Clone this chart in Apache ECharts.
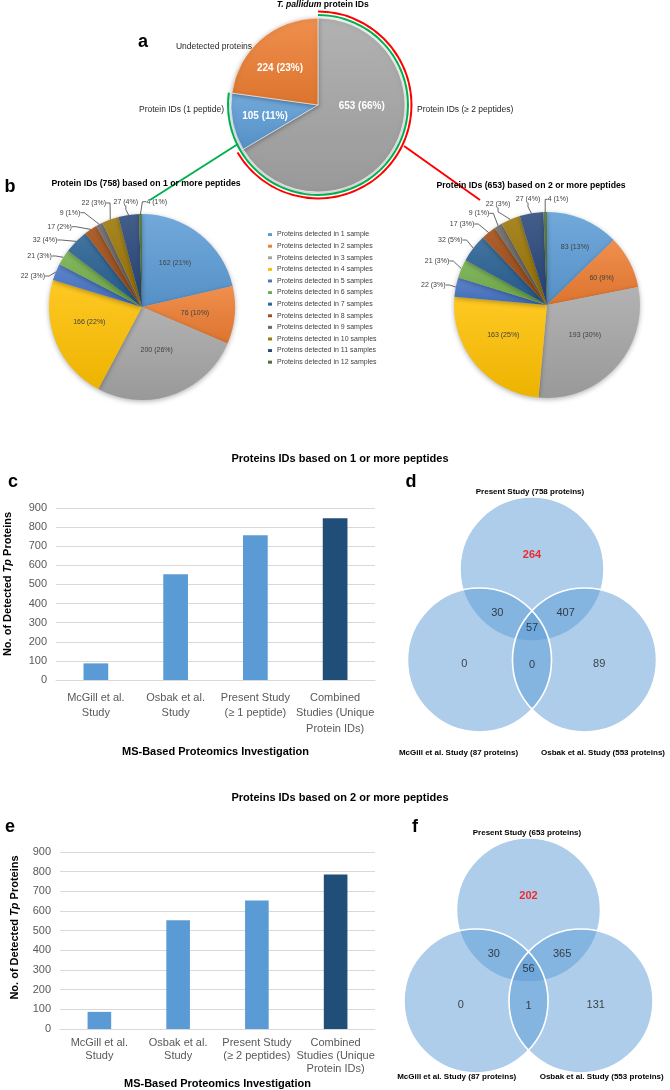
<!DOCTYPE html>
<html><head><meta charset="utf-8">
<script src="https://cdn.jsdelivr.net/npm/echarts@6/dist/echarts.min.js"></script>
<style>html,body{margin:0;padding:0;background:#fff}#c{width:670px;height:1090px}</style>
</head><body><div id="c"></div>
<script>
const FONT = '"Liberation Sans", Arial, sans-serif';

// ---------- DATA ----------
// Panel a
const aNames = ['Protein IDs (≥ 2 peptides)', 'Protein IDs (1 peptide)', 'Undetected proteins'];
const aValues = [653, 105, 224];
const aColors = ['#A5A5A5', '#5B9BD5', '#ED7D31'];
const aIdentified1 = 758;   // green arc: 1 or more peptides
const aIdentified2 = 653;   // red arc: 2 or more peptides

// Panel b
const sampleNames = [
  'Proteins detected in 1 sample', 'Proteins detected in 2 samples', 'Proteins detected in 3 samples',
  'Proteins detected in 4 samples', 'Proteins detected in 5 samples', 'Proteins detected in 6 samples',
  'Proteins detected in 7 samples', 'Proteins detected in 8 samples', 'Proteins detected in 9 samples',
  'Proteins detected in 10 samples', 'Proteins detected in 11 samples', 'Proteins detected in 12 samples'];
const b1Values = [162, 76, 200, 166, 22, 21, 32, 17, 9, 22, 27, 4];
const b2Values = [83, 60, 193, 163, 22, 21, 32, 17, 9, 22, 27, 4];
const sampleColors = ['#5B9BD5', '#ED7D31', '#A5A5A5', '#FFC000', '#4472C4', '#70AD47',
  '#255E91', '#9E480E', '#636363', '#997300', '#264478', '#43682B'];

// Panels c / e
const studiesC = ['McGill et al.\nStudy', 'Osbak et al.\nStudy', 'Present Study\n(≥ 1 peptide)', 'Combined\nStudies (Unique\nProtein IDs)'];
const studiesE = ['McGill et al.\nStudy', 'Osbak et al.\nStudy', 'Present Study\n(≥ 2 peptides)', 'Combined\nStudies (Unique\nProtein IDs)'];
const cValues = [87, 553, 758, 847];
const eValues = [87, 553, 653, 785];
const barColors = ['#5B9BD5', '#5B9BD5', '#5B9BD5', '#1F4E79'];
const yMin = 0, yMax = 900, yStep = 100;

// Panels d / f (Venn regions: Present only, Present∩McGill, Present∩Osbak, all three, McGill only, McGill∩Osbak, Osbak only)
const dCounts = [264, 30, 407, 57, 0, 0, 89];
const fCounts = [202, 30, 365, 56, 0, 1, 131];
const dSets = ['Present Study (758 proteins)', 'McGill et al. Study (87 proteins)', 'Osbak et al. Study (553 proteins)'];
const fSets = ['Present Study (653 proteins)', 'McGill et al. Study (87 proteins)', 'Osbak et al. Study (553 proteins)'];

// ---------- LAYOUT ----------
const vennCircles = [[0, 0.866], [-0.5, 0], [0.5, 0]];  // unit layout, equilateral
const VENN_R = 0.686;
const regionAnchors = [[0, 1.0], [-0.33, 0.45], [0.32, 0.45], [0, 0.305], [-0.645, -0.035], [0, -0.045], [0.64, -0.035]];

function shade(hex, f) {
  const n = parseInt(hex.slice(1), 16);
  let r = (n >> 16) & 255, g = (n >> 8) & 255, b = n & 255;
  if (f >= 0) { r += (255 - r) * f; g += (255 - g) * f; b += (255 - b) * f; }
  else { r *= (1 + f); g *= (1 + f); b *= (1 + f); }
  return 'rgb(' + Math.round(r) + ',' + Math.round(g) + ',' + Math.round(b) + ')';
}
function grad(hex) {
  return new echarts.graphic.LinearGradient(0, 0, 0, 1, [
    { offset: 0, color: shade(hex, 0.14) }, { offset: 1, color: shade(hex, -0.07) }]);
}
function T(text, x, y, size, opts) {
  opts = opts || {};
  return {
    text: text, left: x, top: y, padding: 0, textAlign: opts.align || 'center', textVerticalAlign: 'middle',
    textStyle: { fontFamily: FONT, fontSize: size, fontWeight: opts.weight || 'bold', color: opts.color || '#000', rich: opts.rich }
  };
}

const aLabelPos = [[361.7, 106.7], [265, 116.7], [280, 68]];
const aNamePos = [[417, 110, 'left'], [224, 110, 'right'], [252, 47, 'right']];
const b1LabelPos = [[175, 263.3], [195, 312.7], [156.7, 350], [89.3, 321.7], [32.9, 276], [39.5, 256], [45, 240],
  [59.5, 226.7], [70, 212.7], [93.8, 203], [125.8, 202], [156.7, 201.7]];
const b2LabelPos = [[575, 247.3], [601.7, 278.3], [585, 335], [503.3, 335], [433.3, 285], [437, 261], [450.3, 240],
  [462, 224], [479, 213.3], [498, 204.3], [528, 199.3], [558, 199.3]];

function pieB(values, center, pos) {
  return {
    type: 'pie', center: center, radius: 93, startAngle: 90, clockwise: true, silent: true,
    avoidLabelOverlap: false, percentPrecision: 0,
    data: values.map((v, i) => ({
      value: v, name: sampleNames[i], itemStyle: { color: grad(sampleColors[i]) },
      label: { position: i < 4 ? 'inside' : 'outside' }, labelLine: { show: i >= 4 }
    })),
    label: { formatter: '{c} ({d}%)', fontSize: 7, color: '#404040', fontFamily: FONT },
    labelLine: { length: 6, length2: 4, lineStyle: { color: '#404040', width: 0.8 } },
    labelLayout: p => { const q = pos[p.dataIndex]; return { x: q[0], y: q[1], align: 'center', verticalAlign: 'middle' }; },
    itemStyle: { shadowBlur: 5, shadowColor: 'rgba(0,0,0,0.3)', shadowOffsetY: 1.5 }
  };
}

function vennSeries(idx, counts) {
  const circleSeries = (which, fill, stroke) => ({
    type: 'custom', xAxisIndex: idx, yAxisIndex: idx, silent: true,
    data: which.map(k => vennCircles[k]),
    renderItem: (params, api) => {
      const c = api.coord([api.value(0), api.value(1)]);
      const r = api.size([VENN_R, 0])[0];
      return { type: 'circle', shape: { cx: c[0], cy: c[1], r: r },
        style: { fill: fill, stroke: stroke, lineWidth: 1.6 } };
    }
  });
  return [
    circleSeries([0], 'rgba(91,155,213,0.5)', '#fff'),
    circleSeries([1, 2], 'rgba(91,155,213,0.5)', null),
    circleSeries([1, 2], null, '#fff'),
    {
      type: 'scatter', xAxisIndex: idx, yAxisIndex: idx, silent: true, symbolSize: 0,
      data: counts.map((v, i) => ({
        value: [regionAnchors[i][0], regionAnchors[i][1], v],
        label: i === 0 ? { color: '#FF0000', fontWeight: 'bold' } : {}
      })),
      label: { show: true, position: 'inside', formatter: p => String(p.value[2]), fontSize: 11, color: '#1a1a1a', fontFamily: FONT }
    }
  ];
}

const yAxisName = '{b|No. of Detected }{i|Tp}{b| Proteins}';
const nameRich = {
  b: { fontWeight: 'bold', fontSize: 11, color: '#000', fontFamily: FONT },
  i: { fontWeight: 'bold', fontStyle: 'italic', fontSize: 11, color: '#000', fontFamily: FONT }
};
function catAxis(gridIdx, cats, margin, lh, gap) {
  return {
    type: 'category', gridIndex: gridIdx, data: cats,
    axisLine: { lineStyle: { color: '#D9D9D9', width: 1 } }, axisTick: { show: false },
    axisLabel: { interval: 0, fontSize: 11, color: '#595959', fontFamily: FONT, lineHeight: lh, margin: margin },
    name: 'MS-Based Proteomics Investigation', nameLocation: 'middle', nameGap: gap,
    nameTextStyle: { fontWeight: 'bold', fontSize: 11, color: '#000', fontFamily: FONT }
  };
}
function valAxis(gridIdx, gap, shift) {
  return {
    type: 'value', gridIndex: gridIdx, min: yMin, max: yMax, interval: yStep,
    axisLine: { show: false }, axisTick: { show: false },
    axisLabel: { fontSize: 11, color: '#595959', fontFamily: FONT, margin: 9 },
    splitLine: { lineStyle: { color: '#D9D9D9', width: 1 } },
    name: yAxisName, nameLocation: 'middle', nameGap: gap,
    nameTextStyle: { fontFamily: FONT, padding: [0, 0, 0, shift], rich: nameRich }
  };
}
function hiddenX(g) { return { type: 'value', gridIndex: g, min: -1.3, max: 1.3, show: false }; }
function hiddenY(g) { return { type: 'value', gridIndex: g, min: -0.8, max: 1.6, show: false }; }
const aTotal = aValues.reduce((s, v) => s + v, 0);

const option = {
  animation: false,
  backgroundColor: '#fff',
  title: [
    T('{i|T. pallidum}{b| protein IDs}', 322.7, 5, 8.6, { rich: {
      i: { fontStyle: 'italic', fontWeight: 'bold', fontSize: 8.6, fontFamily: FONT, color: '#000' },
      b: { fontWeight: 'bold', fontSize: 8.6, fontFamily: FONT, color: '#000' } } }),
    T('a', 143, 42, 18), T('b', 10, 187, 18), T('c', 13, 482, 18), T('d', 411, 482, 18),
    T('e', 10, 827, 18), T('f', 415, 827, 18),
    T('Protein IDs (758) based on 1 or more peptides', 146, 184, 8.7),
    T('Protein IDs (653) based on 2 or more peptides', 531, 186, 8.7),
    T('Proteins IDs based on 1 or more peptides', 340, 459, 11),
    T('Proteins IDs based on 2 or more peptides', 340, 798, 11),
    T(dSets[0], 530, 492, 8), T(dSets[1], 458.5, 753, 8), T(dSets[2], 603, 753, 8),
    T(fSets[0], 527, 833, 8), T(fSets[1], 456.7, 1077, 8), T(fSets[2], 601.7, 1077, 8)
  ],
  legend: {
    orient: 'vertical', left: 268, top: 230.5, itemWidth: 4, itemHeight: 3, itemGap: 3.6, icon: 'rect',
    padding: 0, selectedMode: false, data: sampleNames,
    textStyle: { fontSize: 7, color: '#404040', fontFamily: FONT, lineHeight: 8 }
  },
  grid: [
    { left: 56, top: 508, width: 319, height: 172 },
    { left: 60, top: 852, width: 315, height: 177 },
    { left: 395.5, top: 492, width: 273, height: 252 },
    { left: 392, top: 833, width: 273, height: 252 }
  ],
  xAxis: [catAxis(0, studiesC, 10, 15.5, 66), catAxis(1, studiesE, 7, 13, 49), hiddenX(2), hiddenX(3)],
  yAxis: [valAxis(0, 43, 20), valAxis(1, 40, 26), hiddenY(2), hiddenY(3)],
  graphic: [
    { type: 'polyline', shape: { points: [[238, 144], [150, 200]] }, style: { stroke: '#00B050', lineWidth: 2, fill: null }, silent: true },
    { type: 'polyline', shape: { points: [[404, 146], [480, 200]] }, style: { stroke: '#FF0000', lineWidth: 2, fill: null }, silent: true }
  ],
  series: [
    // panel a main pie
    {
      type: 'pie', center: [318, 105], radius: 87, startAngle: 90, clockwise: true, silent: true, percentPrecision: 0,
      data: aValues.map((v, i) => ({ value: v, name: aNames[i], itemStyle: { color: grad(aColors[i]) } })),
      label: { position: 'inside', formatter: '{c} ({d}%)', color: '#fff', fontWeight: 'bold', fontSize: 10, fontFamily: FONT },
      labelLayout: p => ({ x: aLabelPos[p.dataIndex][0], y: aLabelPos[p.dataIndex][1], align: 'center', verticalAlign: 'middle' }),
      itemStyle: { borderColor: '#fff', borderWidth: 0.6, shadowBlur: 4, shadowColor: 'rgba(0,0,0,0.3)', shadowOffsetY: 1 }
    },
    // panel a category names
    {
      type: 'pie', center: [318, 105], radius: 87, startAngle: 90, clockwise: true, silent: true,
      data: aValues.map((v, i) => ({ value: v, name: aNames[i], itemStyle: { color: 'rgba(0,0,0,0)' } })),
      label: { position: 'outside', formatter: '{b}', color: '#262626', fontSize: 8.5, fontFamily: FONT },
      labelLine: { show: false },
      labelLayout: p => ({ x: aNamePos[p.dataIndex][0], y: aNamePos[p.dataIndex][1], align: aNamePos[p.dataIndex][2], verticalAlign: 'middle' })
    },
    // green arc (1 or more peptides)
    {
      type: 'pie', center: [318, 105], radius: [89, 91], startAngle: 90, clockwise: true, silent: true,
      label: { show: false }, labelLine: { show: false },
      data: [{ value: aIdentified1, itemStyle: { color: '#00B050' } },
             { value: aTotal - aIdentified1, itemStyle: { color: 'rgba(0,0,0,0)' } }]
    },
    // red arc (2 or more peptides)
    {
      type: 'pie', center: [318, 105], radius: [92.5, 94.5], startAngle: 90, clockwise: true, silent: true,
      label: { show: false }, labelLine: { show: false },
      data: [{ value: aIdentified2, itemStyle: { color: '#FF0000' } },
             { value: aTotal - aIdentified2, itemStyle: { color: 'rgba(0,0,0,0)' } }]
    },
    pieB(b1Values, [142, 307], b1LabelPos),
    pieB(b2Values, [547, 305], b2LabelPos),
    {
      type: 'bar', xAxisIndex: 0, yAxisIndex: 0, barWidth: '31%', silent: true,
      data: cValues.map((v, i) => ({ value: v, itemStyle: { color: barColors[i] } }))
    },
    {
      type: 'bar', xAxisIndex: 1, yAxisIndex: 1, barWidth: '30%', silent: true,
      data: eValues.map((v, i) => ({ value: v, itemStyle: { color: barColors[i] } }))
    }
  ].concat(vennSeries(2, dCounts), vennSeries(3, fCounts))
};

const chart = echarts.init(document.getElementById('c'), null, { renderer: 'canvas', width: 670, height: 1090 });
chart.setOption(option);
</script>
</body></html>
